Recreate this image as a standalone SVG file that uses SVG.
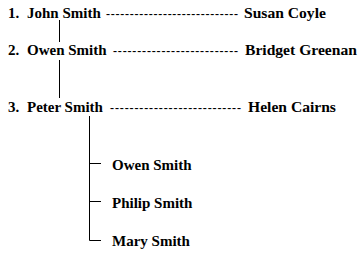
<svg xmlns="http://www.w3.org/2000/svg" width="362" height="259" viewBox="0 0 362 259">
<style>
text{font-family:'Liberation Serif','Times New Roman','DejaVu Serif',serif;font-weight:bold;font-size:15px;fill:#000}
.d{font-weight:bold;font-size:12px}
.s{font-size:15.6px}
.ln{stroke:#000;stroke-width:1;fill:none}
</style>
<rect width="362" height="259" fill="#fff"/>
<g id="connectors">
<path class="ln" d="M59.5 20V42M59.5 60V98M89.5 116V240.5H101M89 163.5H101M89 201.5H101"/>
</g>
<g id="gen1">
<text x="8" y="18">1.</text><text x="27" y="18">John Smith</text>
<text class="d" x="106" y="18" textLength="132" lengthAdjust="spacing">----------------------------</text>
<text class="s" x="244" y="18">Susan Coyle</text>
</g>
<g id="gen2">
<text x="8" y="55">2.</text><text x="27" y="55">Owen Smith</text>
<text class="d" x="113" y="55" textLength="125" lengthAdjust="spacing">--------------------------</text>
<text class="s" x="245" y="55">Bridget Greenan</text>
</g>
<g id="gen3">
<text x="8" y="112">3.</text><text x="27" y="112">Peter Smith</text>
<text class="d" x="110" y="112" textLength="131" lengthAdjust="spacing">---------------------------</text>
<text class="s" x="248" y="112">Helen Cairns</text>
</g>
<g id="child1"><text x="112" y="170">Owen Smith</text></g>
<g id="child2"><text x="112" y="208">Philip Smith</text></g>
<g id="child3"><text x="112" y="246">Mary Smith</text></g>
</svg>
